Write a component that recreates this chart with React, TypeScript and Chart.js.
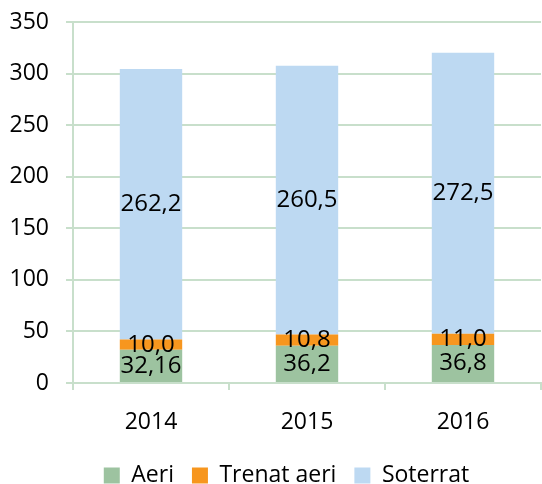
import React, { useEffect, useRef } from "react";
import { Chart, registerables } from "chart.js";

Chart.register(...registerables);

const categories = ["2014", "2015", "2016"];
const aeri = [32.16, 36.2, 36.8];
const trenatAeri = [10.0, 10.8, 11.0];
const soterrat = [262.2, 260.5, 272.5];
const seriesNames = ["Aeri", "Trenat aeri", "Soterrat"];
const seriesColors = ["#9DC3A0", "#F7961E", "#BDD9F2"];
const yMax = 350;
const yStep = 50;

const FONT = "'Open Sans', sans-serif";
const GRID = "#C8DFCB";

const fmt = (v: number) => (Number.isInteger(v) ? v.toFixed(1) : String(v)).replace(".", ",");

const dataLabelPlugin = {
  id: "stackLabels",
  afterDatasetsDraw(chart: any) {
    const ctx = chart.ctx;
    ctx.save();
    ctx.font = `24px ${FONT}`;
    ctx.fillStyle = "#000";
    ctx.textAlign = "center";
    ctx.textBaseline = "middle";
    chart.data.datasets.forEach((ds: any, i: number) => {
      const meta = chart.getDatasetMeta(i);
      meta.data.forEach((bar: any, j: number) => {
        const y = (bar.y + bar.base) / 2;
        ctx.fillText(fmt(ds.data[j]), bar.x, y);
      });
    });
    ctx.restore();
  },
};

const legendShiftPlugin = {
  id: "legendShift",
  afterLayout(chart: any) {
    const lg = chart.legend;
    if (lg) {
      lg.left += 16;
      lg.right += 16;
    }
  },
};

export default function App() {
  const ref = useRef<HTMLCanvasElement>(null);
  useEffect(() => {
    document.body.style.margin = "0";
    const chart = new Chart(ref.current!, {
      type: "bar",
      data: {
        labels: categories,
        datasets: [aeri, trenatAeri, soterrat].map((d, i) => ({
          label: seriesNames[i],
          data: d,
          backgroundColor: seriesColors[i],
          borderWidth: 0,
          categoryPercentage: 1,
          barPercentage: 0.4,
        })),
      },
      options: {
        animation: false,
        responsive: false,
        maintainAspectRatio: false,
        layout: { padding: { top: 22, right: 1, left: 0, bottom: -13 } },
        scales: {
          x: {
            stacked: true,
            border: { color: GRID, width: 2 },
            grid: {
              offset: true,
              drawOnChartArea: false,
              drawTicks: true,
              tickLength: 7,
              color: GRID,
              lineWidth: 2,
            },
            ticks: { color: "#000", font: { family: FONT, size: 23 }, padding: 19 },
            afterFit: (s: any) => {
              s.height = 63;
            },
          },
          y: {
            stacked: true,
            min: 0,
            max: yMax,
            border: { color: GRID, width: 2 },
            grid: { color: GRID, lineWidth: 2, tickLength: 7 },
            ticks: {
              stepSize: yStep,
              color: "#000",
              font: { family: FONT, size: 23 },
              padding: 17,
            },
            afterFit: (s: any) => {
              s.width = 73;
              s.paddingTop = 0;
              s.paddingBottom = 0;
            },
          },
        },
        plugins: {
          legend: {
            position: "bottom",
            labels: {
              color: "#000",
              font: { family: FONT, size: 23 },
              boxWidth: 16,
              boxHeight: 16,
              padding: 18,
            },
          },
          tooltip: { enabled: false },
        },
      },
      plugins: [dataLabelPlugin, legendShiftPlugin],
    });
    return () => chart.destroy();
  }, []);
  return <canvas ref={ref} width={542} height={484} style={{ display: "block" }} />;
}
